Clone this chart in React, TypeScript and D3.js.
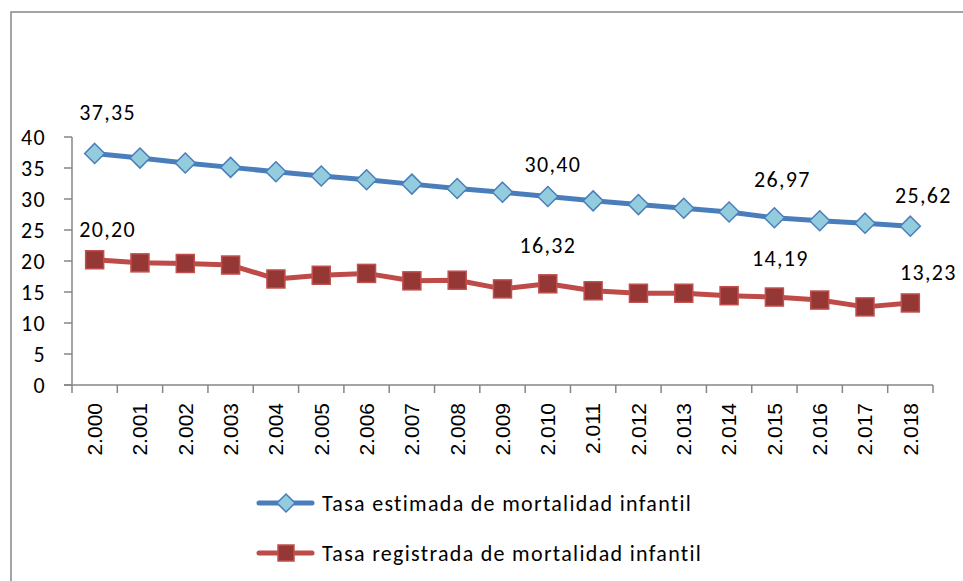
import * as d3 from "d3";

const years = ["2.000", "2.001", "2.002", "2.003", "2.004", "2.005", "2.006", "2.007", "2.008", "2.009",
    "2.010", "2.011", "2.012", "2.013", "2.014", "2.015", "2.016", "2.017", "2.018"];
const estimada = [37.35, 36.6, 35.8, 35.1, 34.4, 33.7, 33.1, 32.4, 31.7, 31.1,
    30.40, 29.7, 29.1, 28.5, 27.9, 26.97, 26.5, 26.1, 25.62];
const registrada = [20.20, 19.7, 19.6, 19.35, 17.1, 17.7, 18.0, 16.8, 16.9, 15.5,
    16.32, 15.2, 14.8, 14.8, 14.4, 14.19, 13.7, 12.6, 13.23];
const yTicks = [0, 5, 10, 15, 20, 25, 30, 35, 40];
const labeled = [0, 10, 15, 18];
const seriesNames = ["Tasa estimada de mortalidad infantil", "Tasa registrada de mortalidad infantil"];

// label nudges (dx, dy from the point), like Excel placed them
const blueOffsets = [[13, -33], [5, -25], [8, -31], [13, -23]];
const redOffsets = [[13, -23], [0, -31], [6, -31], [18, -23]];

const width = 963
const height = 581
const marginLeft = 72
const marginRight = 30
const plotTop = 137
const plotBottom = 385

const blue = "#4a7ebb"
const blueFill = "#93cddd"
const red = "#be4b48"
const redFill = "#953735"
const axisColor = "#868686"
const font = "Carlito, Calibri, Lato, sans-serif"
const fontSize = 22
const spacing = 1.3

function fmt(v) {
    return v.toFixed(2).replace(".", ",");
}

function Diamond({ cx, cy, r = 10 }) {
    return <path d={`M${cx},${cy - r}L${cx + r},${cy}L${cx},${cy + r}L${cx - r},${cy}Z`}
        fill={blueFill} stroke={blue} strokeWidth={1.5} />
}

function Square({ cx, cy, s = 18 }) {
    return <rect x={cx - s / 2} y={cy - s / 2} width={s} height={s}
        fill={redFill} stroke={"#c0504d"} strokeWidth={1.5} />
}

export default function App() {
    const x = d3.scaleBand(years, [marginLeft, width - marginRight]);
    const bw = x.bandwidth();
    const cx = (i) => x(years[i]) + bw / 2;
    const y = d3.scaleLinear([0, 40], [plotBottom, plotTop]);
    const line = d3.line((d, i) => cx(i), (d) => y(d));

    return (
        <svg width={width} height={height} style={{ position: "absolute", left: 0, top: 0, background: "white" }}>
            <rect x={11} y={12} width={width} height={height} fill="white" stroke={axisColor} strokeWidth={1.5} />

            {/* y axis */}
            <line x1={marginLeft} x2={marginLeft} y1={y(40)} y2={y(0)} stroke={axisColor} strokeWidth={1.5} />
            {yTicks.map(t => (
                <g key={t}>
                    <line x1={marginLeft - 8} x2={marginLeft} y1={y(t)} y2={y(t)} stroke={axisColor} strokeWidth={1.5} />
                    <text x={46} y={y(t)} dy="0.35em" textAnchor="end" fontFamily={font} fontSize={fontSize}
                        letterSpacing={spacing}>{t}</text>
                </g>
            ))}

            {/* x axis */}
            <line x1={marginLeft - 8} x2={width - marginRight} y1={y(0)} y2={y(0)} stroke={axisColor} strokeWidth={1.5} />
            {years.map((yr, i) => (
                <g key={yr}>
                    <line x1={x(yr) + bw} x2={x(yr) + bw} y1={y(0)} y2={y(0) + 8} stroke={axisColor} strokeWidth={1.5} />
                    <text transform={`translate(${cx(i)},403) rotate(-90)`} dy="0.35em" textAnchor="end"
                        fontFamily="Liberation Sans, Arial, sans-serif" fontSize={21}>{yr}</text>
                </g>
            ))}
            <line x1={marginLeft} x2={marginLeft} y1={y(0)} y2={y(0) + 8} stroke={axisColor} strokeWidth={1.5} />

            {/* series */}
            <path d={line(estimada)} fill="none" stroke={blue} strokeWidth={5} strokeLinejoin="round" />
            {estimada.map((v, i) => <Diamond key={i} cx={cx(i)} cy={y(v)} />)}
            <path d={line(registrada)} fill="none" stroke={red} strokeWidth={5} strokeLinejoin="round" />
            {registrada.map((v, i) => <Square key={i} cx={cx(i)} cy={y(v)} />)}

            {/* data labels */}
            {labeled.map((i, k) => (
                <text key={"b" + i} x={cx(i) + blueOffsets[k][0]} y={y(estimada[i]) + blueOffsets[k][1]}
                    textAnchor="middle" fontFamily={font} fontSize={fontSize} letterSpacing={spacing}>{fmt(estimada[i])}</text>
            ))}
            {labeled.map((i, k) => (
                <text key={"r" + i} x={cx(i) + redOffsets[k][0]} y={y(registrada[i]) + redOffsets[k][1]}
                    textAnchor="middle" fontFamily={font} fontSize={fontSize} letterSpacing={spacing}>{fmt(registrada[i])}</text>
            ))}

            {/* legend */}
            <g transform="translate(259,503)">
                <line x1={0} x2={53} stroke={blue} strokeWidth={5} strokeLinecap="round" />
                <Diamond cx={27} cy={0} r={9} />
                <text x={63} dy="0.35em" fontFamily={font} fontSize={fontSize} letterSpacing={spacing}>{seriesNames[0]}</text>
            </g>
            <g transform="translate(259,553)">
                <line x1={0} x2={53} stroke={red} strokeWidth={5} strokeLinecap="round" />
                <Square cx={27} cy={0} s={16} />
                <text x={63} dy="0.35em" fontFamily={font} fontSize={fontSize} letterSpacing={spacing}>{seriesNames[1]}</text>
            </g>
        </svg>
    )
}
